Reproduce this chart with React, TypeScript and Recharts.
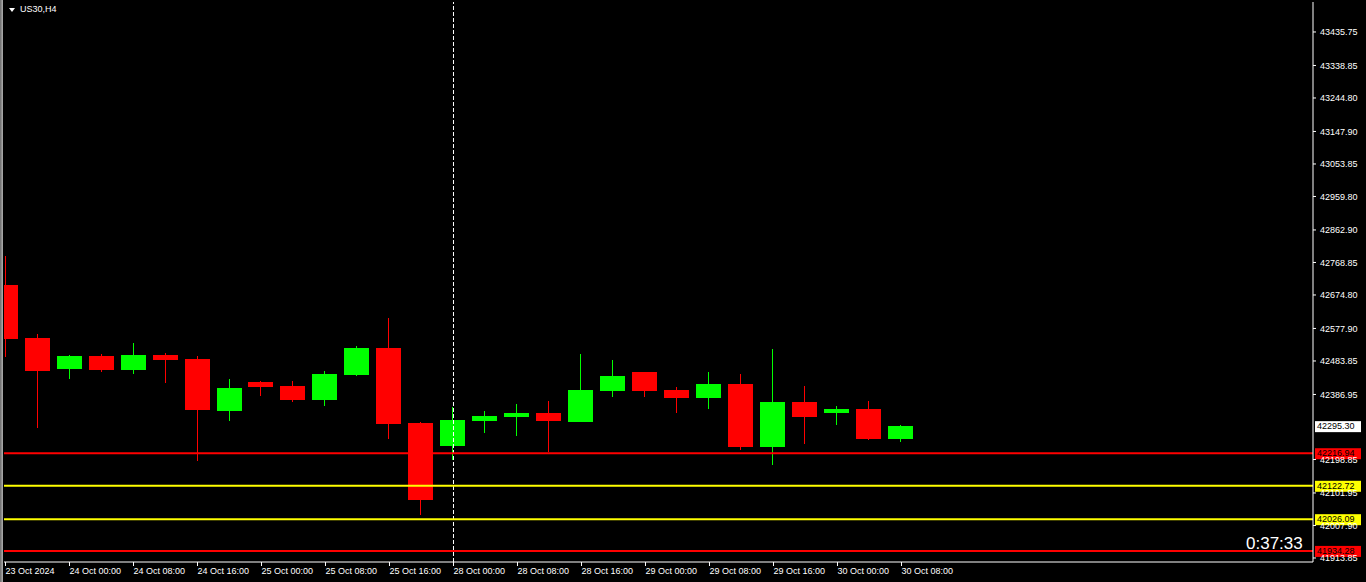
import React from 'react';
import { ComposedChart, Bar, XAxis, YAxis, ReferenceLine } from 'recharts';

// H4 bars, oldest first
const times = [
  '23 Oct 16:00', '23 Oct 20:00', '24 Oct 00:00', '24 Oct 04:00', '24 Oct 08:00', '24 Oct 12:00',
  '24 Oct 16:00', '24 Oct 20:00', '25 Oct 00:00', '25 Oct 04:00', '25 Oct 08:00', '25 Oct 12:00',
  '25 Oct 16:00', '25 Oct 20:00', '28 Oct 00:00', '28 Oct 04:00', '28 Oct 08:00', '28 Oct 12:00',
  '28 Oct 16:00', '28 Oct 20:00', '29 Oct 00:00', '29 Oct 04:00', '29 Oct 08:00', '29 Oct 12:00',
  '29 Oct 16:00', '29 Oct 20:00', '30 Oct 00:00', '30 Oct 04:00', '30 Oct 08:00',
];
const opens = [
  42704, 42550, 42461, 42498, 42458, 42501, 42490, 42339, 42423, 42411, 42371, 42443, 42521, 42304,
  42238, 42310, 42322, 42333, 42307, 42397, 42452, 42400, 42377, 42417, 42235, 42365, 42333, 42345, 42258,
];
const highs = [
  42788, 42562, 42501, 42504, 42536, 42507, 42498, 42432, 42426, 42426, 42455, 42527, 42608, 42307,
  42351, 42339, 42359, 42368, 42504, 42487, 42453, 42409, 42452, 42446, 42519, 42411, 42354, 42368, 42298,
];
const lows = [
  42495, 42290, 42432, 42452, 42446, 42420, 42194, 42310, 42383, 42365, 42353, 42440, 42258, 42038,
  42197, 42276, 42267, 42220, 42306, 42380, 42380, 42333, 42345, 42226, 42183, 42243, 42299, 42255, 42249,
];
const closes = [
  42548, 42455, 42498, 42458, 42501, 42487, 42342, 42406, 42409, 42371, 42446, 42521, 42301, 42082,
  42313, 42325, 42333, 42310, 42400, 42440, 42397, 42377, 42417, 42235, 42365, 42322, 42345, 42258, 42295.3,
];

const xTickIndex = [0, 2, 4, 6, 8, 10, 12, 14, 16, 18, 20, 22, 24, 26, 28];
const xTickLabels = [
  '23 Oct 2024', '24 Oct 00:00', '24 Oct 08:00', '24 Oct 16:00', '25 Oct 00:00', '25 Oct 08:00',
  '25 Oct 16:00', '28 Oct 00:00', '28 Oct 08:00', '28 Oct 16:00', '29 Oct 00:00', '29 Oct 08:00',
  '29 Oct 16:00', '30 Oct 00:00', '30 Oct 08:00',
];
const priceTicks = [
  43435.75, 43338.85, 43244.8, 43147.9, 43053.85, 42959.8, 42862.9, 42768.85, 42674.8,
  42577.9, 42483.85, 42386.95, 42198.85, 42101.95, 42007.9, 41913.85,
];

const levelPrices = [42216.94, 42122.72, 42026.09, 41934.28];
const levelColors = ['#ff0000', '#ffff00', '#ffff00', '#ff0000'];
const lastPrice = 42295.3;
const separatorIndex = 14;
const symbolTitle = 'US30,H4';
const countdown = '0:37:33';

const FONT = '"Liberation Sans", Arial, sans-serif';

const data = times.map((time, i) => ({
  i,
  time,
  open: opens[i],
  high: highs[i],
  low: lows[i],
  close: closes[i],
}));

const Candle = (props: any) => {
  const { x, y, width, height, payload } = props;
  const top = Math.min(y, y + height);
  const bottom = Math.max(y, y + height);
  const { open, close, high, low } = payload;
  const span = high - low || 1;
  const toY = (p: number) => top + ((high - p) / span) * (bottom - top);
  const color = close >= open ? '#00ff00' : '#ff0000';
  const bodyTop = Math.round(toY(Math.max(open, close)));
  const bodyBottom = Math.round(toY(Math.min(open, close)));
  const wickX = Math.floor(x + width / 2);
  return (
    <g>
      <rect x={wickX} y={Math.round(top)} width={1} height={Math.max(1, Math.round(bottom - top))} fill={color} />
      <rect x={Math.round(x)} y={bodyTop} width={Math.round(width)} height={Math.max(1, bodyBottom - bodyTop)} fill={color} />
    </g>
  );
};

const TimeTick = (props: any) => {
  const { x, y, payload } = props;
  const label = xTickLabels[xTickIndex.indexOf(payload.value)];
  return (
    <text x={x} y={y} dy="0.71em" fontSize={9} fontFamily={FONT} fill="#ffffff" textAnchor="start">
      {label}
    </text>
  );
};

const PriceTick = (props: any) => {
  const { x, y, payload } = props;
  return (
    <text x={x + 2} y={y} dy="0.35em" fontSize={9} fontFamily={FONT} fill="#ffffff" textAnchor="start">
      {payload.value.toFixed(2)}
    </text>
  );
};

const PriceTag = (props: any) => {
  const { viewBox, value, bg } = props;
  const { x, y, width } = viewBox;
  return (
    <g>
      <rect x={x + width + 2} y={y - 5} width={46} height={11} fill={bg} />
      <text x={x + width + 4} y={y} dy="0.35em" fontSize={9} fontFamily={FONT} fill="#000000">
        {value.toFixed(2)}
      </text>
    </g>
  );
};

export default function App() {
  return (
    <div style={{ position: 'relative', width: 1366, height: 582, background: '#000', overflow: 'hidden' }}>
      <style>{'body{margin:0;background:#000;}'}</style>
      <div
        style={{
          position: 'absolute', left: 0, top: 0, width: 3, height: 582,
          background: 'linear-gradient(to right, #6a6a6a, #b0b0b0)',
        }}
      />
      <ComposedChart
        width={1366}
        height={582}
        data={data}
        margin={{ top: 2, right: 0, bottom: 0, left: 4 }}
        style={{ background: 'transparent' }}
      >
        <XAxis
          dataKey="i"
          type="number"
          domain={[-0.047, 40.86]}
          allowDataOverflow
          ticks={xTickIndex}
          interval={0}
          height={20}
          tickSize={4}
          tickMargin={2}
          axisLine={{ stroke: '#ffffff' }}
          tickLine={{ stroke: '#ffffff' }}
          tick={<TimeTick />}
        />
        <XAxis
          xAxisId="top"
          orientation="top"
          type="number"
          domain={[0, 1]}
          height={0}
          tick={false}
          tickLine={false}
          axisLine={{ stroke: '#ffffff' }}
        />
        <YAxis
          orientation="right"
          type="number"
          domain={[41902.2, 43522.5]}
          allowDataOverflow
          ticks={priceTicks}
          interval={0}
          width={53}
          tickSize={3}
          tickMargin={2}
          axisLine={{ stroke: '#ffffff' }}
          tickLine={{ stroke: '#ffffff' }}
          tick={<PriceTick />}
        />
        <YAxis
          yAxisId="left"
          orientation="left"
          type="number"
          domain={[0, 1]}
          width={0}
          tick={false}
          tickLine={false}
          axisLine={{ stroke: '#ffffff' }}
        />
        <Bar
          dataKey={(d: any) => [d.low, d.high]}
          barSize={25}
          shape={<Candle />}
          isAnimationActive={false}
        />
        <ReferenceLine x={separatorIndex} stroke="#ffffff" strokeDasharray="4 2" />
        <ReferenceLine
          y={lastPrice}
          stroke="transparent"
          label={<PriceTag value={lastPrice} bg="#ffffff" />}
        />
        {levelPrices.map((p, k) => (
          <ReferenceLine
            key={p}
            y={p}
            stroke={levelColors[k]}
            strokeWidth={2}
            label={<PriceTag value={p} bg={levelColors[k]} />}
          />
        ))}
      </ComposedChart>
      <div
        style={{
          position: 'absolute', left: 9, top: 8, width: 0, height: 0,
          borderLeft: '3px solid transparent', borderRight: '3px solid transparent', borderTop: '4px solid #fff',
        }}
      />
      <div
        style={{
          position: 'absolute', left: 20, top: 4, fontFamily: FONT, fontSize: 9, lineHeight: '11px', color: '#fff',
        }}
      >
        {symbolTitle}
      </div>
      <div
        style={{
          position: 'absolute', left: 1246, top: 535, fontFamily: FONT, fontSize: 17, lineHeight: '17px', color: '#fff',
        }}
      >
        {countdown}
      </div>
    </div>
  );
}
